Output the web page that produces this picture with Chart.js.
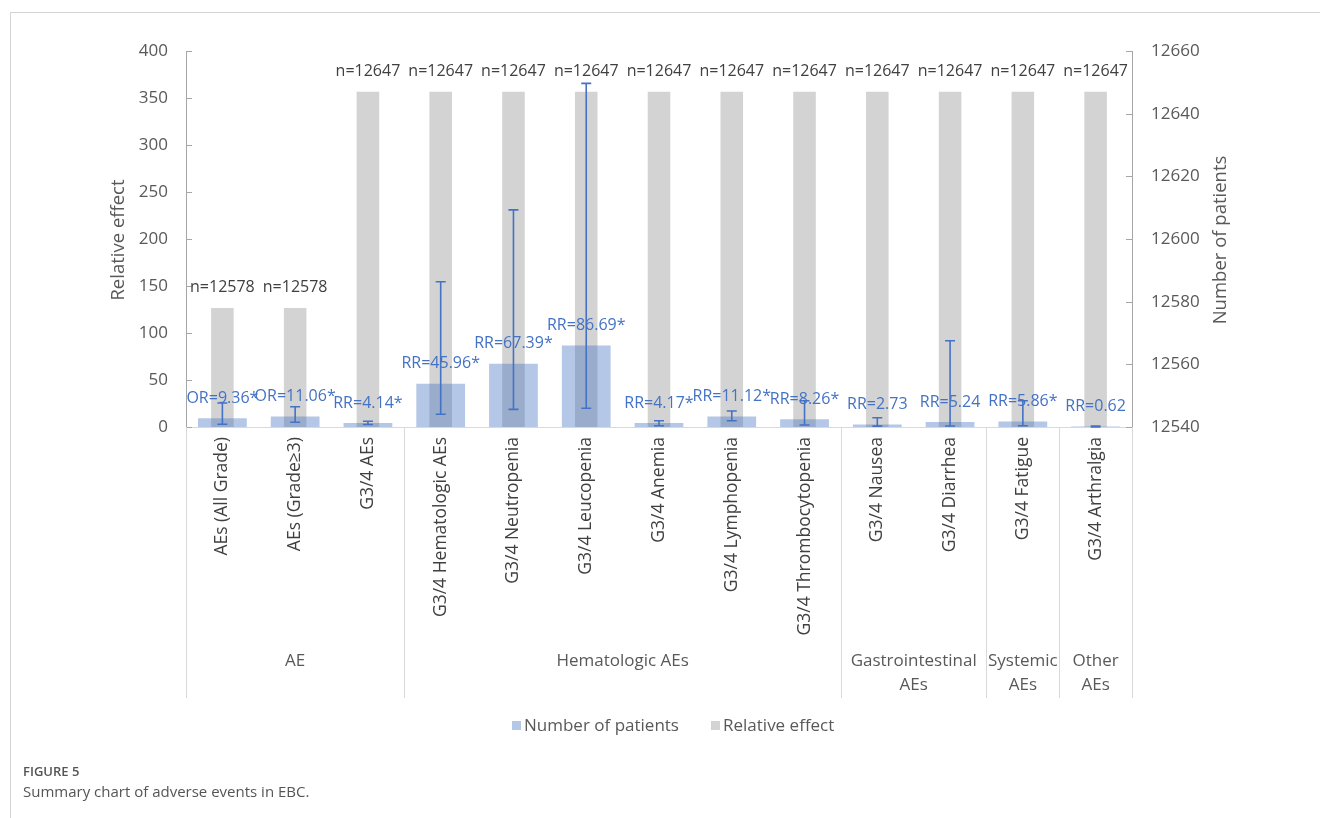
<!DOCTYPE html>
<html>
<head>
<meta charset="utf-8">
<script src="https://cdn.jsdelivr.net/npm/chart.js@4.4.1/dist/chart.umd.min.js"></script>
<style>
  html, body { margin: 0; padding: 0; background: #ffffff; }
  #wrap { position: relative; width: 1320px; height: 818px; overflow: hidden; }
  #chart { position: absolute; left: 0; top: 0; }
  .frame-top { position: absolute; left: 10px; top: 12px; width: 1310px; height: 1px; background: #d4d4d4; }
  .frame-left { position: absolute; left: 10px; top: 12px; width: 1px; height: 806px; background: #d4d4d4; }
  .fig-no { position: absolute; left: 23px; top: 762px; font: 600 13px "Open Sans", sans-serif; color: #555555; }
  .fig-cap { position: absolute; left: 23px; top: 781px; font: 400 15px "Open Sans", sans-serif; color: #555555; }
</style>
</head>
<body>
<div id="wrap">
  <canvas id="chart" width="1320" height="818"></canvas>
  <div class="frame-top"></div>
  <div class="frame-left"></div>
  <div class="fig-no">FIGURE 5</div>
  <div class="fig-cap">Summary chart of adverse events in EBC.</div>
</div>
<script>
// Adverse event categories (bottom level of the category axis)
const categories = [
  'AEs (All Grade)', 'AEs (Grade\u22653)', 'G3/4 AEs',
  'G3/4 Hematologic AEs', 'G3/4 Neutropenia', 'G3/4 Leucopenia', 'G3/4 Anemia',
  'G3/4 Lymphopenia', 'G3/4 Thrombocytopenia',
  'G3/4 Nausea', 'G3/4 Diarrhea',
  'G3/4 Fatigue',
  'G3/4 Arthralgia'
];

// Outer level of the category axis: group names and how many categories each spans
const groupNames = [['AE'], ['Hematologic AEs'], ['Gastrointestinal', 'AEs'], ['Systemic', 'AEs'], ['Other', 'AEs']];
const groupSizes = [3, 6, 2, 1, 1];

// Effect measure per category, point estimate, significance flag and 95% CI
const effectType = ['OR', 'OR', 'RR', 'RR', 'RR', 'RR', 'RR', 'RR', 'RR', 'RR', 'RR', 'RR', 'RR'];
const effectValue = [9.36, 11.06, 4.14, 45.96, 67.39, 86.69, 4.17, 11.12, 8.26, 2.73, 5.24, 5.86, 0.62];
const significant = [true, true, true, true, true, true, true, true, true, false, false, true, false];
const ciLower = [3.0, 5.0, 2.7, 13.6, 18.8, 19.9, 1.4, 6.7, 2.1, 0.9, 1.1, 1.4, 0.1];
const ciUpper = [25.5, 21.6, 6.1, 154.6, 231.0, 365.6, 6.7, 17.0, 28.0, 9.9, 91.8, 28.0, 0.9];

// Patients included per category
const patientCounts = [12578, 12578, 12647, 12647, 12647, 12647, 12647, 12647, 12647, 12647, 12647, 12647, 12647];

// Series names as shown in the legend
const seriesNames = ['Number of patients', 'Relative effect'];

// Axis ranges and tick steps
const leftAxis = { min: 0, max: 400, step: 50, title: 'Relative effect' };
const rightAxis = { min: 12540, max: 12660, step: 20, title: 'Number of patients' };

const FONT = '"Open Sans", "Noto Sans", sans-serif';
const BLUE_FILL = 'rgba(68, 114, 196, 0.4)';
const BLUE_INK = '#4472C4';
const GRAY_FILL = '#D3D3D3';
const AXIS_GRAY = '#A6A6A6';
const SEP_GRAY = '#D9D9D9';

const overlay = {
  id: 'overlay',
  afterDatasetsDraw(chart) {
    const ctx = chart.ctx;
    const area = chart.chartArea;
    const yL = chart.scales.y;
    const yR = chart.scales.y2;
    const xs = chart.scales.x;
    const blueMeta = chart.getDatasetMeta(0);
    const grayMeta = chart.getDatasetMeta(1);

    ctx.save();

    // inward tick marks on both value axes
    ctx.strokeStyle = AXIS_GRAY;
    ctx.lineWidth = 1;
    yL.ticks.forEach(t => {
      const py = Math.round(yL.getPixelForValue(t.value)) + 0.5;
      ctx.beginPath(); ctx.moveTo(area.left, py); ctx.lineTo(area.left + 6, py); ctx.stroke();
    });
    yR.ticks.forEach(t => {
      const py = Math.round(yR.getPixelForValue(t.value)) + 0.5;
      ctx.beginPath(); ctx.moveTo(area.right - 6, py); ctx.lineTo(area.right, py); ctx.stroke();
    });

    // confidence-interval whiskers on the effect bars
    ctx.strokeStyle = BLUE_INK;
    ctx.lineWidth = 1.6;
    blueMeta.data.forEach((bar, i) => {
      const x = bar.x;
      const yLo = yL.getPixelForValue(ciLower[i]);
      const yHi = yL.getPixelForValue(ciUpper[i]);
      ctx.beginPath();
      ctx.moveTo(x, yLo); ctx.lineTo(x, yHi);
      ctx.moveTo(x - 5, yLo); ctx.lineTo(x + 5, yLo);
      ctx.moveTo(x - 5, yHi); ctx.lineTo(x + 5, yHi);
      ctx.stroke();
    });

    // sample-size labels above the gray bars
    ctx.font = '16px ' + FONT;
    ctx.textAlign = 'center';
    ctx.textBaseline = 'middle';
    ctx.fillStyle = '#404040';
    grayMeta.data.forEach((bar, i) => {
      ctx.fillText('n=' + patientCounts[i], bar.x, bar.y - 20);
    });

    // effect labels above the blue bars
    ctx.fillStyle = BLUE_INK;
    blueMeta.data.forEach((bar, i) => {
      const txt = effectType[i] + '=' + effectValue[i].toFixed(2) + (significant[i] ? '*' : '');
      ctx.fillText(txt, bar.x, bar.y - 20);
    });

    // category labels, rotated to read upwards
    ctx.fillStyle = '#404040';
    ctx.font = '17.5px ' + FONT;
    ctx.textAlign = 'right';
    categories.forEach((c, i) => {
      const x = xs.getPixelForValue(i);
      ctx.save();
      ctx.translate(x, area.bottom + 10);
      ctx.rotate(-Math.PI / 2);
      ctx.fillText(c, 0, 0);
      ctx.restore();
    });

    // group separators and group names
    const slot = (area.right - area.left) / categories.length;
    ctx.strokeStyle = SEP_GRAY;
    ctx.lineWidth = 1;
    let start = 0;
    const boundaries = [0];
    groupSizes.forEach(n => { start += n; boundaries.push(start); });
    boundaries.forEach(b => {
      const bx = Math.round(area.left + b * slot) + 0.5;
      ctx.beginPath(); ctx.moveTo(bx, area.bottom); ctx.lineTo(bx, 698); ctx.stroke();
    });
    ctx.fillStyle = '#595959';
    ctx.font = '17px ' + FONT;
    ctx.textAlign = 'center';
    groupNames.forEach((lines, g) => {
      const cx = area.left + ((boundaries[g] + boundaries[g + 1]) / 2) * slot;
      lines.forEach((ln, k) => ctx.fillText(ln, cx, 661 + k * 24));
    });

    // axis titles
    ctx.font = '18.5px ' + FONT;
    ctx.fillStyle = '#595959';
    [[119, leftAxis.title], [1221, rightAxis.title]].forEach(([tx, txt]) => {
      ctx.save();
      ctx.translate(tx, 240);
      ctx.rotate(-Math.PI / 2);
      ctx.textAlign = 'center';
      ctx.fillText(txt, 0, 0);
      ctx.restore();
    });

    // legend
    ctx.font = '17px ' + FONT;
    ctx.textAlign = 'left';
    const legendItems = [
      { x: 512, name: chart.data.datasets[0].label, color: BLUE_FILL },
      { x: 711, name: chart.data.datasets[1].label, color: GRAY_FILL }
    ];
    legendItems.forEach(it => {
      ctx.fillStyle = it.color;
      ctx.fillRect(it.x, 721, 9, 9);
      ctx.fillStyle = '#595959';
      ctx.fillText(it.name, it.x + 12, 726);
    });

    ctx.restore();
  }
};

new Chart(document.getElementById('chart'), {
  type: 'bar',
  data: {
    labels: categories,
    datasets: [
      {
        label: seriesNames[0], data: effectValue, yAxisID: 'y',
        backgroundColor: BLUE_FILL, grouped: false,
        categoryPercentage: 1, barPercentage: 0.67, order: 0
      },
      {
        label: seriesNames[1], data: patientCounts, yAxisID: 'y2',
        backgroundColor: GRAY_FILL, grouped: false,
        categoryPercentage: 1, barPercentage: 0.31, order: 1
      }
    ]
  },
  options: {
    responsive: false,
    animation: false,
    events: [],
    layout: { padding: { top: 51, bottom: 391, left: 0, right: 0 } },
    plugins: { legend: { display: false }, tooltip: { enabled: false } },
    scales: {
      x: {
        ticks: { display: false },
        grid: { display: false, drawTicks: false },
        border: { display: true, color: SEP_GRAY },
        afterFit(s) { s.height = 0; }
      },
      y: {
        position: 'left',
        min: leftAxis.min, max: leftAxis.max,
        ticks: { stepSize: leftAxis.step, color: '#595959', font: { family: FONT, size: 17 }, padding: 18 },
        grid: { display: false, drawTicks: false },
        border: { display: true, color: AXIS_GRAY },
        afterFit(s) { s.width = 186; }
      },
      y2: {
        position: 'right',
        min: rightAxis.min, max: rightAxis.max,
        ticks: {
          stepSize: rightAxis.step, color: '#595959', font: { family: FONT, size: 17 }, padding: 19,
          callback: v => String(v)
        },
        grid: { display: false, drawTicks: false },
        border: { display: true, color: AXIS_GRAY },
        afterFit(s) { s.width = 188; }
      }
    }
  },
  plugins: [overlay]
});
</script>
</body>
</html>
